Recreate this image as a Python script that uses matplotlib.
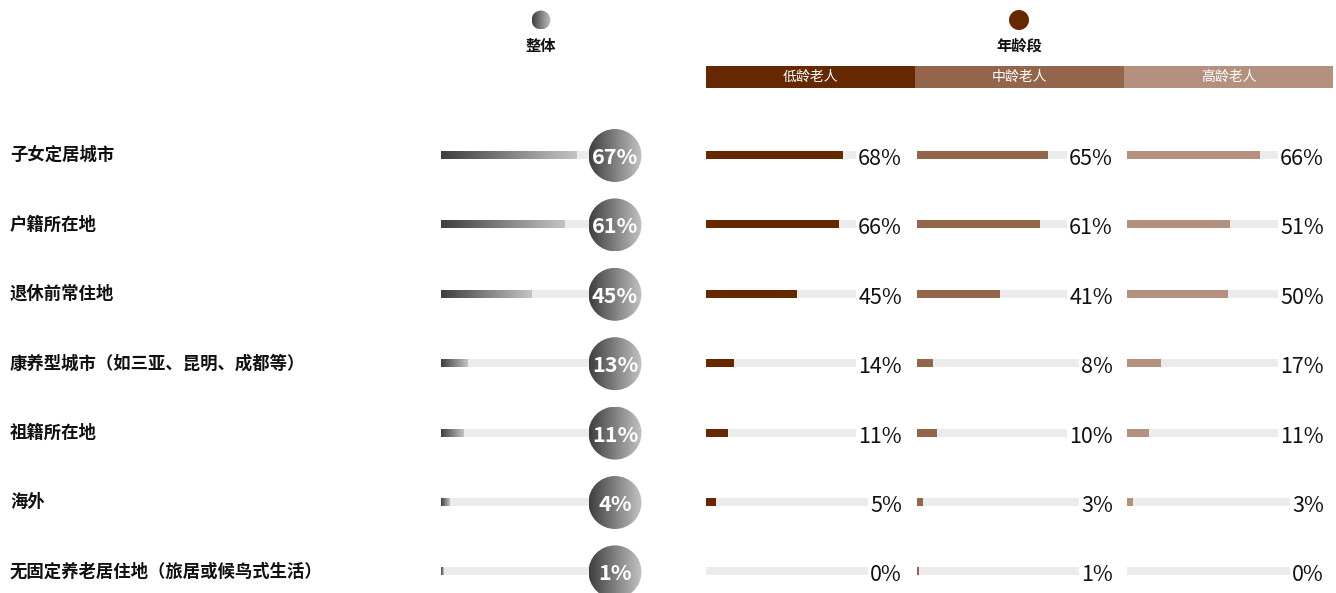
import matplotlib
matplotlib.use('Agg')
import matplotlib.pyplot as plt
from matplotlib.patches import Circle
import numpy as np

plt.rcParams['font.family'] = ['Noto Sans CJK SC', 'DejaVu Sans']

categories = ['子女定居城市', '户籍所在地', '退休前常住地', '康养型城市（如三亚、昆明、成都等）',
              '祖籍所在地', '海外', '无固定养老居住地（旅居或候鸟式生活）']
overall = [67, 61, 45, 13, 11, 4, 1]
low = [68, 66, 45, 14, 11, 5, 0]
mid = [65, 61, 41, 8, 10, 3, 1]
high = [66, 51, 50, 17, 11, 3, 0]
groups = ['低龄老人', '中龄老人', '高龄老人']
group_colors = ['#652800', '#93664c', '#b4917e']

W, H = 1336, 593
fig = plt.figure(figsize=(W / 100, H / 100), dpi=100)
ax = fig.add_axes([0, 0, 1, 1])
ax.set_xlim(0, W)
ax.set_ylim(H, 0)
ax.axis('off')

track = '#ebebeb'
scale = 2.02
bar_h = 8
row_y = [155 + i * 69.4 for i in range(len(categories))]

grad = np.linspace(0, 1, 256).reshape(1, -1)
gray_cmap = matplotlib.colors.LinearSegmentedColormap.from_list('g', ['#3e3e3e', '#c4c4c4'])


def grad_circle(cx, cy, r, z=5):
    im = ax.imshow(grad, cmap=gray_cmap, extent=[cx - r, cx + r, cy + r, cy - r],
                   aspect='auto', zorder=z, interpolation='bilinear')
    c = Circle((cx, cy), r, transform=ax.transData, facecolor='none', edgecolor='none')
    ax.add_patch(c)
    im.set_clip_path(c)


# header
grad_circle(541, 20, 9.5)
ax.text(541, 46, '整体', ha='center', va='center', fontsize=11, fontweight='bold', color='#111111')
ax.add_patch(Circle((1019, 20), 10, facecolor='#652800', edgecolor='none'))
ax.text(1019, 46, '年龄段', ha='center', va='center', fontsize=11, fontweight='bold', color='#111111')

col_x0 = [706, 917, 1127]
col_right = [902, 1113, 1324]
head_x = [706, 915, 1124, 1333]
for i, g in enumerate(groups):
    ax.barh(77, head_x[i + 1] - head_x[i], left=head_x[i], height=22, color=group_colors[i])
    ax.text((head_x[i] + head_x[i + 1]) / 2, 77, g, ha='center', va='center',
            fontsize=10, color='white')

# rows
for j, cat in enumerate(categories):
    y = row_y[j]
    ax.text(10, y, cat, ha='left', va='center', fontsize=12.5, fontweight='bold', color='#111111')

    # overall column
    ax.barh(y, 180, left=441, height=bar_h, color=track, zorder=1)
    w = overall[j] * scale
    ax.imshow(grad, cmap=gray_cmap, extent=[441, 441 + w, y + bar_h / 2, y - bar_h / 2],
              aspect='auto', zorder=2, interpolation='bilinear')
    grad_circle(615, y + 0.5, 26.5)
    ax.text(615, y + 2.5, f'{overall[j]}%', ha='center', va='center', fontsize=15.5,
            fontweight='bold', color='white', zorder=6)

    for k, vals in enumerate([low, mid, high]):
        x0 = col_x0[k]
        ax.barh(y, 190, left=x0, height=bar_h, color=track, zorder=1)
        ax.barh(y, vals[j] * scale, left=x0, height=bar_h, color=group_colors[k], zorder=2)
        ax.text(col_right[k], y + 4, f'{vals[j]}%', ha='right', va='center', fontsize=15.5,
                color='#111111', zorder=4,
                bbox=dict(facecolor='white', edgecolor='none', pad=1.5))

ax.set_xlim(0, W)
ax.set_ylim(H, 0)
fig.savefig('out.png', dpi=100)
